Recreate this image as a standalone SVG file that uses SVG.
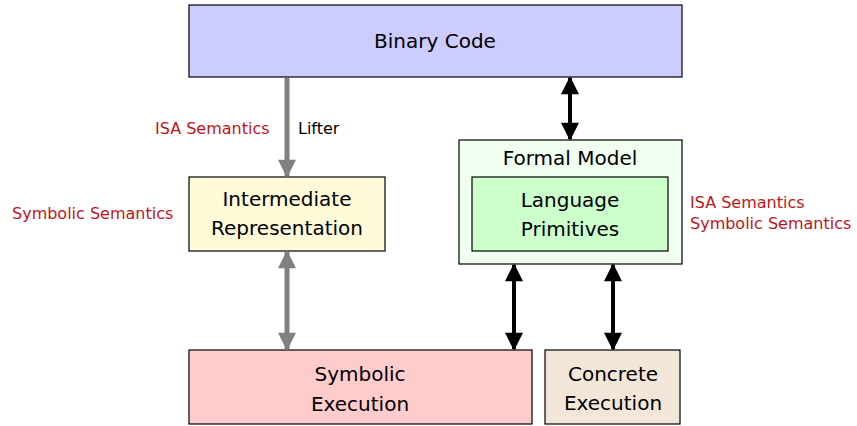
<svg xmlns="http://www.w3.org/2000/svg" width="857" height="426" viewBox="0 0 857 426">
<style>
.box{stroke:#000;stroke-width:1.2}
.t{font-family:"DejaVu Sans","Liberation Sans",sans-serif;font-size:20px;fill:#000;text-anchor:middle}
.r{font-family:"DejaVu Sans","Liberation Sans",sans-serif;font-size:16px;fill:#c0141c}
.l{font-family:"DejaVu Sans","Liberation Sans",sans-serif;font-size:16px;fill:#000}
.g{stroke:#808080;stroke-width:5;fill:none}
.k{stroke:#000;stroke-width:4;fill:none}
</style>
<defs>
<marker id="ag" markerUnits="userSpaceOnUse" markerWidth="22" markerHeight="18" refX="18" refY="10" orient="auto-start-reverse" viewBox="0 0 20 20">
<path d="M0,0 L20,10 L0,20 Z" fill="#808080"/>
</marker>
<marker id="ak" markerUnits="userSpaceOnUse" markerWidth="22" markerHeight="18" refX="18" refY="10" orient="auto-start-reverse" viewBox="0 0 20 20">
<path d="M0,0 L20,10 L0,20 Z" fill="#000"/>
</marker>
</defs>
<g id="binary"><rect class="box" x="189" y="5" width="493" height="72" fill="#ccccff"/><text class="t" x="435" y="48">Binary Code</text></g>
<g id="ir"><rect class="box" x="189" y="177" width="196" height="74" fill="#fffad8"/><text class="t" x="287" y="206">Intermediate</text><text class="t" x="287" y="235">Representation</text></g>
<g id="formal"><rect class="box" x="459" y="140" width="223" height="124" fill="#f0fff0"/><text class="t" x="570" y="165">Formal Model</text></g>
<g id="primitives"><rect class="box" x="472" y="177" width="196" height="74" fill="#ccffcc"/><text class="t" x="570" y="207">Language</text><text class="t" x="570" y="236">Primitives</text></g>
<g id="symexec"><rect class="box" x="189" y="350" width="343" height="74" fill="#ffcccc"/><text class="t" x="360" y="381">Symbolic</text><text class="t" x="360" y="411">Execution</text></g>
<g id="concrete"><rect class="box" x="545" y="350" width="135" height="74" fill="#f2e6d9"/><text class="t" x="613" y="381">Concrete</text><text class="t" x="613" y="410">Execution</text></g>
<g id="labels">
<text class="r" x="155" y="134">ISA Semantics</text>
<text class="l" x="298" y="134">Lifter</text>
<text class="r" x="12" y="219">Symbolic Semantics</text>
<text class="r" x="690" y="208">ISA Semantics</text>
<text class="r" x="690" y="229">Symbolic Semantics</text>
</g>
<g id="connectors">
<line class="g" x1="287" y1="78" x2="287" y2="176" marker-end="url(#ag)"/>
<line class="g" x1="287" y1="252" x2="287" y2="349" marker-start="url(#ag)" marker-end="url(#ag)"/>
<line class="k" x1="570" y1="78" x2="570" y2="139" marker-start="url(#ak)" marker-end="url(#ak)"/>
<line class="k" x1="514" y1="265" x2="514" y2="349" marker-start="url(#ak)" marker-end="url(#ak)"/>
<line class="k" x1="613" y1="265" x2="613" y2="349" marker-start="url(#ak)" marker-end="url(#ak)"/>
</g>
</svg>
